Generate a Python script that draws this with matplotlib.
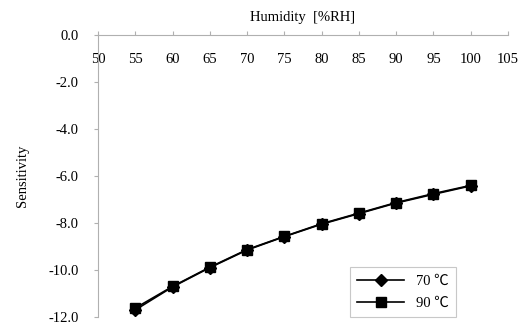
import matplotlib
matplotlib.use("Agg")
import matplotlib.pyplot as plt

# humidity steps and sensitivity
humidity = [55, 60, 65, 70, 75, 80, 85, 90, 95, 100]
sens_70c = [-11.70, -10.72, -9.90, -9.15, -8.58, -8.05, -7.60, -7.15, -6.78, -6.42]
sens_90c = [-11.62, -10.70, -9.88, -9.13, -8.57, -8.03, -7.58, -7.13, -6.75, -6.40]
labels = ["70 \u2103", "90 \u2103"]

x_ticks = list(range(50, 106, 5))
y_ticks = [0, -2, -4, -6, -8, -10, -12]

plt.rcParams["font.family"] = ["Liberation Serif", "Noto Sans CJK SC", "DejaVu Sans"]
grey = "#b0b0b0"

fig = plt.figure(figsize=(5.29, 3.27), dpi=100)
ax = fig.add_axes([98 / 529, 1 - 317 / 327, 410 / 529, 282 / 327])

ax.plot(humidity, sens_70c, color="black", lw=1.2, marker="D", ms=6.5, label=labels[0])
ax.plot(humidity, sens_90c, color="black", lw=1.2, marker="s", ms=7, label=labels[1])

ax.set_xlim(50, 105)
ax.set_ylim(-12, 0)
ax.set_xticks(x_ticks)
ax.set_yticks(y_ticks)
ax.set_yticklabels([f"{v:.1f}" for v in y_ticks])

# x axis sits on y=0 at the top, ticks up, labels below the line
for side in ("bottom", "right"):
    ax.spines[side].set_visible(False)
ax.spines["top"].set_color(grey)
ax.spines["left"].set_color(grey)
ax.xaxis.set_ticks_position("top")
ax.xaxis.set_label_position("top")
ax.tick_params(axis="x", direction="out", length=3, color=grey, labelsize=10.5,
               labeltop=True, labelbottom=False, pad=-25)
ax.tick_params(axis="y", direction="out", length=3, color=grey, labelsize=10.5, pad=11)

ax.set_xlabel("Humidity  [%RH]", fontsize=10.5, labelpad=7)
ax.set_ylabel("Sensitivity", fontsize=10.5, labelpad=14)

leg = ax.legend(loc="lower left", bbox_to_anchor=(0.615, 0.0), fontsize=10.5,
                fancybox=False, edgecolor="#c8c8c8", framealpha=1,
                handlelength=3.2, borderpad=0.5, labelspacing=0.6,
                borderaxespad=0)
leg.get_frame().set_linewidth(0.8)

fig.savefig("out.png", dpi=100)
